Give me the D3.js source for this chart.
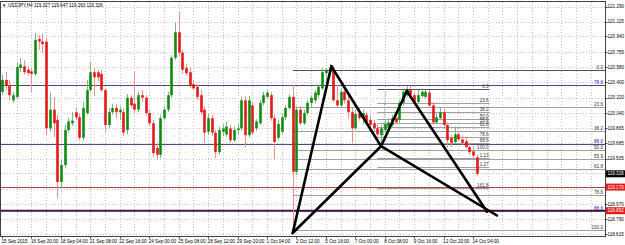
<!DOCTYPE html>
<html>
<head>
<meta charset="utf-8">
<script src="https://cdn.jsdelivr.net/npm/d3@7"></script>
<style>
body { margin: 0; background: #fff; }
svg text { font-family: "Liberation Sans", Arial, sans-serif; font-size: 4.6px; fill: #000; }
</style>
</head>
<body>
<div class="chart"></div>
<script>
// USDJPY H4 candles
var opens = [120.29,120.43,120.36,120.19,120.23,120.57,120.59,120.55,120.53,120.50,
120.91,120.88,120.88,119.86,120.08,119.96,119.23,119.43,119.84,119.92,
120.05,119.99,119.75,120.04,120.31,120.52,120.52,120.50,120.31,119.90,
120.05,120.10,120.05,120.05,119.84,120.22,120.15,120.08,120.25,120.22,
120.04,119.92,119.63,119.55,119.98,120.08,120.25,120.69,120.99,120.75,
120.57,120.52,120.38,120.35,120.25,120.08,119.82,119.98,119.81,119.58,
119.82,119.79,119.86,119.72,119.84,119.86,120.19,119.78,120.13,119.86,
119.92,120.16,120.23,120.25,119.98,119.75,119.82,119.99,120.10,120.23,
119.35,120.08,119.92,120.04,120.16,120.19,120.25,120.33,120.51,120.52,
120.55,120.19,120.13,120.29,120.19,120.05,119.86,120.03,119.98,120.02,
119.96,119.92,119.86,119.78,119.84,119.88,119.90,119.98,119.96,120.16,
120.25,120.32,120.25,120.17,120.24,120.23,120.28,120.13,119.93,119.98,
120.05,119.90,119.75,119.70,119.79,119.73,119.71,119.64,119.59,119.52];
var highs = [120.49,120.52,120.43,120.29,120.64,120.69,120.66,120.59,120.57,120.98,
120.96,120.97,120.92,120.28,120.22,120.02,119.49,119.90,119.98,120.05,
120.10,120.03,120.17,120.43,120.64,120.57,120.55,120.55,120.33,120.10,
120.15,120.15,120.12,120.10,120.26,120.25,120.52,120.29,120.31,120.25,
120.08,119.96,119.69,120.02,120.12,120.29,120.72,121.10,121.23,120.78,
120.62,120.58,120.43,120.38,120.31,120.12,120.03,120.02,119.84,119.88,
119.91,119.94,119.90,119.88,119.91,120.23,120.24,120.24,120.17,119.97,
120.19,120.29,120.31,120.29,120.02,119.96,120.03,120.13,120.26,120.37,
120.12,120.12,120.08,120.19,120.25,120.31,120.38,120.57,120.57,120.62,
120.59,120.37,120.33,120.33,120.24,120.10,120.08,120.10,120.08,120.05,
120.01,119.96,119.91,119.90,119.96,119.98,120.02,120.02,120.19,120.31,
120.36,120.36,120.29,120.31,120.33,120.31,120.31,120.17,120.04,120.10,
120.09,119.93,119.79,119.88,119.83,119.78,119.76,119.68,119.64,119.55];
var lows = [120.25,120.31,120.19,120.16,120.21,120.52,120.49,120.48,120.29,120.48,
120.78,120.75,119.78,119.82,119.76,119.04,119.16,119.39,119.81,119.89,
119.96,119.72,119.72,120.02,120.29,120.24,120.41,120.29,119.81,119.86,
120.02,119.98,119.96,119.77,119.79,120.10,120.04,120.05,120.17,120.01,
119.89,119.53,119.49,119.51,119.95,120.05,120.22,120.66,120.71,120.50,
120.48,120.33,120.31,120.19,120.02,119.69,119.78,119.77,119.51,119.55,
119.77,119.76,119.69,119.70,119.79,119.84,119.64,119.75,119.78,119.83,
119.90,120.13,120.21,119.95,119.49,119.72,119.79,119.96,120.08,118.63,
119.31,119.90,119.90,120.02,120.10,120.16,120.22,120.31,120.41,120.49,
120.17,120.10,120.11,120.15,119.98,119.69,119.84,119.95,119.91,119.91,
119.86,119.83,119.75,119.64,119.81,119.85,119.88,119.91,119.92,120.13,
120.23,120.22,120.15,120.15,120.22,120.21,120.10,119.90,119.91,119.96,
119.86,119.63,119.64,119.68,119.71,119.66,119.62,119.55,119.50,119.30];
var closes = [120.43,120.36,120.25,120.25,120.58,120.61,120.52,120.51,120.50,120.90,
120.88,120.85,119.86,120.08,119.92,119.23,119.43,119.84,119.94,119.95,
119.99,119.75,120.10,120.31,120.52,120.46,120.46,120.31,119.90,120.05,
120.10,120.05,120.08,119.81,120.22,120.13,120.08,120.25,120.22,120.04,
119.92,119.57,119.55,119.98,120.08,120.25,120.69,120.99,120.75,120.55,
120.51,120.36,120.33,120.23,120.05,119.81,119.98,119.81,119.58,119.84,
119.86,119.88,119.72,119.84,119.86,120.19,119.78,120.19,119.81,119.94,
120.16,120.25,120.28,119.98,119.70,119.91,119.99,120.10,120.23,119.35,
120.08,119.92,120.04,120.16,120.22,120.28,120.35,120.52,120.55,120.57,
120.19,120.13,120.29,120.19,120.05,119.86,120.03,119.98,120.04,119.93,
119.90,119.86,119.79,119.86,119.91,119.93,119.98,119.93,120.16,120.29,
120.32,120.25,120.17,120.25,120.29,120.29,120.13,119.93,119.99,120.05,
119.90,119.72,119.69,119.79,119.73,119.69,119.64,119.58,119.54,119.326];

var dateLabels = ["15 Sep 2015","16 Sep 20:00","18 Sep 04:00","21 Sep 08:00","22 Sep 16:00",
"24 Sep 00:00","25 Sep 08:00","28 Sep 12:00","29 Sep 20:00","1 Oct 04:00","2 Oct 12:00",
"5 Oct 16:00","7 Oct 00:00","8 Oct 08:00","9 Oct 16:00","12 Oct 20:00","14 Oct 04:00"];

var priceTicks = [121.290,121.115,120.940,120.755,120.580,120.400,120.220,120.040,
119.865,119.685,119.505,119.330,119.150,118.970,118.790,118.615];
var hiddenTicks = [119.330, 119.150];

// harmonic pattern X A B C D (bar index, price)
var patternBars = [79, 89.5, 103, 110, 131.8];
var patternPrices = [118.63, 120.59, 119.65, 120.30, 118.88];
var bdEnd = [134.5, 118.836];

// fibonacci XA (ray to the right)
var fib1Ends = [120.55, 118.67];
var fib1Levels = [0, 23.6, 38.2, 50, 55.9, 61.8, 78.6, 88.6, 100];
var fib1Labels = ["0.0","23.6","38.2","50.0","55.9","61.8","78.6","88.6","100.0"];
// fibonacci on the B-C leg
var fib2Ends = [120.323, 119.606];
var fib2Levels = [0, 23.6, 38.2, 50, 55.9, 61.8, 78.6, 88.6, 100, 113, 127.2, 161.8];
var fib2Labels = ["0.0","23.6","38.2","50.0","55.9","61.8","78.6","88.6","100.0","1.13","1.27","161.8"];

var navyLevels = [120.375, 119.676];
var navyLabels = ["78.6", "88.6"];
var redLevel = 119.170;
var purpleLevel = 118.892;
var lastPrice = 119.326;

var width = 625, height = 245;
var plotRight = 605, plotBottom = 236.5;

var svg = d3.select(".chart").append("svg")
    .attr("width", width)
    .attr("height", height);

var x = d3.scaleLinear().domain([0, 129]).range([2, 476.72]);
var y = d3.scaleLinear().domain([118.615, 121.290]).range([234.3, 6.7]);

// grid
var grid = svg.append("g");
grid.selectAll(".hg")
    .data(priceTicks)
    .enter().append("line")
    .attr("x1", 1).attr("x2", plotRight)
    .attr("y1", d => Math.round(y(d)) + 0.5)
    .attr("y2", d => Math.round(y(d)) + 0.5)
    .attr("stroke", "#c4c4c4")
    .attr("stroke-dasharray", "1,2");
grid.selectAll(".vg")
    .data(d3.range(4, 164, 4))
    .enter().append("line")
    .attr("x1", d => Math.round(x(d)) + 0.5)
    .attr("x2", d => Math.round(x(d)) + 0.5)
    .attr("y1", 2).attr("y2", plotBottom)
    .attr("stroke", "#c4c4c4")
    .attr("stroke-dasharray", "1,2");

// fib levels
function fibPrice(ends, lv) { return ends[0] - (ends[0] - ends[1]) * lv / 100; }

var fibs = svg.append("g");
fibs.selectAll(".f1")
    .data(fib1Levels)
    .enter().append("line")
    .attr("x1", x(79)).attr("x2", plotRight)
    .attr("y1", d => Math.round(y(fibPrice(fib1Ends, d))) + 0.5)
    .attr("y2", d => Math.round(y(fibPrice(fib1Ends, d))) + 0.5)
    .attr("stroke", (d, i) => i == 0 ? "#555" : "#a0a0a0");
fibs.selectAll(".f1t")
    .data(fib1Levels)
    .enter().append("text")
    .attr("x", 603)
    .attr("y", d => y(fibPrice(fib1Ends, d)) - 1)
    .attr("text-anchor", "end")
    .style("fill", d => d == 88.6 ? "#2020c0" : "#333")
    .text((d, i) => fib1Labels[i]);

fibs.selectAll(".f2")
    .data(fib2Levels)
    .enter().append("line")
    .attr("x1", x(102)).attr("x2", x(132.5))
    .attr("y1", d => Math.round(y(fibPrice(fib2Ends, d))) + 0.5)
    .attr("y2", d => Math.round(y(fibPrice(fib2Ends, d))) + 0.5)
    .attr("stroke", (d, i) => i == 0 ? "#555" : "#a0a0a0");
fibs.selectAll(".f2t")
    .data(fib2Levels)
    .enter().append("text")
    .attr("x", x(132.5) - 1)
    .attr("y", d => y(fibPrice(fib2Ends, d)) - 1)
    .attr("text-anchor", "end")
    .style("fill", "#333")
    .text((d, i) => fib2Labels[i]);

// dotted anchor lines of the two fib tools
fibs.append("line")
    .attr("x1", x(79)).attr("y1", y(fib1Ends[1]))
    .attr("x2", x(89.5)).attr("y2", y(fib1Ends[0]))
    .attr("stroke", "#888").attr("stroke-dasharray", "1,1.5");
fibs.append("line")
    .attr("x1", x(103.5)).attr("y1", y(fib2Ends[1]))
    .attr("x2", x(104.2)).attr("y2", y(fib2Ends[0]))
    .attr("stroke", "#888").attr("stroke-dasharray", "1,1.5");

// horizontal lines across the chart
var hl = svg.append("g");
hl.selectAll(".nv")
    .data(navyLevels)
    .enter().append("line")
    .attr("x1", 1).attr("x2", plotRight)
    .attr("y1", d => Math.round(y(d)) + 0.5)
    .attr("y2", d => Math.round(y(d)) + 0.5)
    .attr("stroke", "#4a4a7e");
hl.selectAll(".nvt")
    .data(navyLevels)
    .enter().append("text")
    .attr("x", 603)
    .attr("y", d => y(d) - 1)
    .attr("text-anchor", "end")
    .style("fill", "#2020c0")
    .text((d, i) => navyLabels[i]);
hl.append("line")
    .attr("x1", 1).attr("x2", plotRight)
    .attr("y1", Math.round(y(redLevel)) + 0.5)
    .attr("y2", Math.round(y(redLevel)) + 0.5)
    .attr("stroke", "#a04848");
hl.append("line")
    .attr("x1", 1).attr("x2", plotRight)
    .attr("y1", y(purpleLevel))
    .attr("y2", y(purpleLevel))
    .attr("stroke", "#4a1440")
    .attr("stroke-width", 2);

// candles
var idx = d3.range(opens.length);
var candles = svg.append("g");
candles.selectAll(".wick")
    .data(idx)
    .enter().append("line")
    .attr("x1", i => Math.round(x(i)) + 0.5)
    .attr("x2", i => Math.round(x(i)) + 0.5)
    .attr("y1", i => y(highs[i]))
    .attr("y2", i => y(lows[i]))
    .attr("stroke", i => closes[i] >= opens[i] ? "#7db87d" : "#ee8f8f");
candles.selectAll(".body")
    .data(idx)
    .enter().append("rect")
    .attr("x", i => Math.round(x(i)) + 0.5 - 1.3)
    .attr("width", 2.6)
    .attr("y", i => y(Math.max(opens[i], closes[i])))
    .attr("height", i => Math.max(1, Math.abs(y(opens[i]) - y(closes[i]))))
    .attr("fill", i => closes[i] >= opens[i] ? "#118a11" : "#e21a1a");

// pattern lines
var pts = patternBars.map((b, i) => [x(b), y(patternPrices[i])]);
var segs = [[0, 1], [1, 2], [2, 3], [3, 4], [0, 2]];
var pat = svg.append("g");
pat.selectAll(".leg")
    .data(segs)
    .enter().append("line")
    .attr("x1", d => pts[d[0]][0]).attr("y1", d => pts[d[0]][1])
    .attr("x2", d => pts[d[1]][0]).attr("y2", d => pts[d[1]][1])
    .attr("stroke", "#000")
    .attr("stroke-width", 2.6)
    .attr("stroke-linecap", "round");
pat.append("line")
    .attr("x1", pts[2][0]).attr("y1", pts[2][1])
    .attr("x2", x(bdEnd[0])).attr("y2", y(bdEnd[1]))
    .attr("stroke", "#000")
    .attr("stroke-width", 2.6)
    .attr("stroke-linecap", "round");

// frame
svg.append("rect")
    .attr("x", 0.5).attr("y", 1.5)
    .attr("width", plotRight)
    .attr("height", plotBottom - 1.5)
    .attr("fill", "none")
    .attr("stroke", "#444");

// price axis
var ax = svg.append("g");
ax.selectAll(".pt")
    .data(priceTicks)
    .enter().append("line")
    .attr("x1", plotRight + 0.5).attr("x2", plotRight + 2.5)
    .attr("y1", d => Math.round(y(d)) + 0.5)
    .attr("y2", d => Math.round(y(d)) + 0.5)
    .attr("stroke", "#444");
ax.selectAll(".ptl")
    .data(priceTicks.filter(d => hiddenTicks.indexOf(d) < 0))
    .enter().append("text")
    .attr("x", 607.5)
    .attr("y", d => y(d))
    .attr("dy", "0.35em")
    .text(d => d.toFixed(3));

var boxes = [[lastPrice, "#000"], [redLevel, "#e41c1c"], [purpleLevel, "#e41c1c"]];
ax.selectAll(".box")
    .data(boxes)
    .enter().append("rect")
    .attr("x", 606).attr("width", 19)
    .attr("y", d => y(d[0]) - 3.5)
    .attr("height", 7)
    .attr("fill", d => d[1]);
ax.selectAll(".boxt")
    .data(boxes)
    .enter().append("text")
    .attr("x", 607.5)
    .attr("y", d => y(d[0]))
    .attr("dy", "0.35em")
    .style("fill", "#fff")
    .text(d => d[0].toFixed(3));

// time axis
ax.selectAll(".dt")
    .data(dateLabels)
    .enter().append("line")
    .attr("x1", (d, i) => Math.round(x(i * 8)) + 0.5)
    .attr("x2", (d, i) => Math.round(x(i * 8)) + 0.5)
    .attr("y1", plotBottom).attr("y2", plotBottom + 2)
    .attr("stroke", "#444");
ax.selectAll(".dtl")
    .data(dateLabels)
    .enter().append("text")
    .attr("x", (d, i) => x(i * 8) - 0.5)
    .attr("y", 243)
    .text(d => d);

// title
svg.append("text")
    .attr("x", 2).attr("y", 7)
    .style("font-size", "4.2px")
    .text("\u25BC");
svg.append("text")
    .attr("x", 8).attr("y", 7)
    .text("USDJPY,H4  119.327 119.647 119.263 119.326");
</script>
</body>
</html>
